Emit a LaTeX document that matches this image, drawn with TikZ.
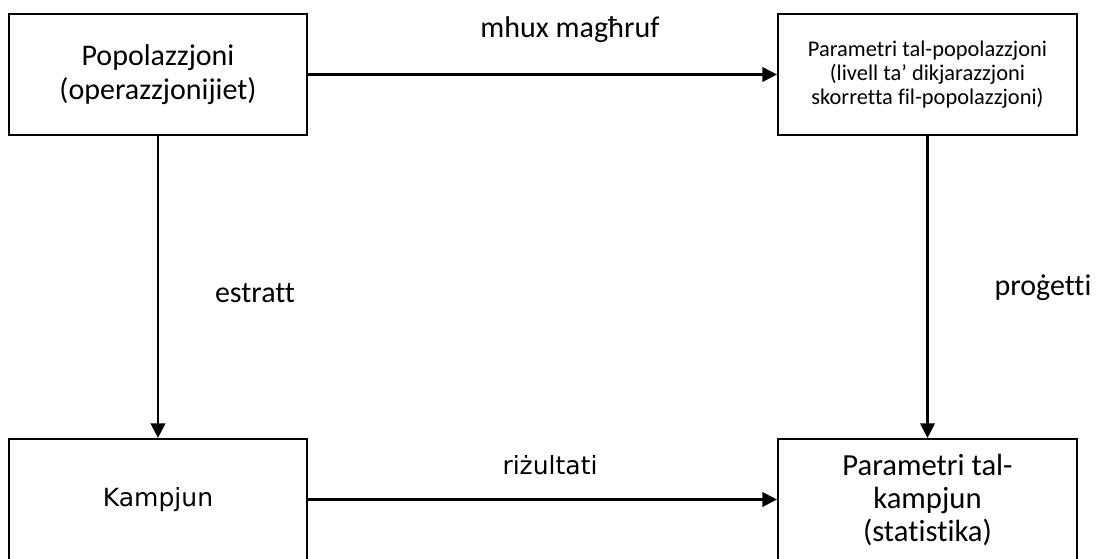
\documentclass[tikz,border=0pt]{standalone}
\usepackage{fontspec}
\setmainfont{Carlito}[Ligatures={NoCommon}]
\newfontfamily\dejavu{DejaVu Sans}
\usepackage{tikz}
\usetikzlibrary{arrows.meta, positioning}

\tikzset{
  blokk/.style={draw=black, line width=1.6pt, rectangle, minimum width=223.5pt, minimum height=90.75pt, align=center, inner sep=0pt},
  vleggija/.style={black, line width=1.6pt, -{Triangle[length=11pt, width=11pt]}},
  tikketta/.style={font=\fontsize{22.5}{25}\selectfont}
}

\begin{document}
\begin{tikzpicture}[x=0.75pt, y=-0.75pt]
  % Page frame
  \useasboundingbox (0,0) rectangle (1097,559);

  % Boxes (top row)
  \node[blokk, font=\fontsize{22.5}{25.5}\selectfont] (pop) at (158, 74.5) {\rule{0pt}{14pt}Popolazzjoni\\(operazzjonijiet)};
  \node[blokk, minimum width=224.25pt, font=\fontsize{16.8}{18}\selectfont] (parpop) at (927.5, 74.5) {Parametri tal-popolazzjoni\\(livell ta’ dikjarazzjoni\\skorretta fil-popolazzjoni)};

  % Boxes (bottom row)
  \node[blokk, font=\dejavu\fontsize{18.75}{20}\selectfont] (kamp) at (158, 499.5) {Kampjun};
  \node[blokk, minimum width=224.25pt, font=\fontsize{23}{24.75}\selectfont] (parkamp) at (927.5, 499.5) {\rule{0pt}{16pt}Parametri tal-\\kampjun\\(statistika)};

  % Connectors
  \draw[vleggija] (pop) -- (parpop);
  \draw[vleggija] (pop) -- (kamp);
  \draw[vleggija] (parpop) -- (parkamp);
  \draw[vleggija] (kamp) -- (parkamp);

  % Labels
  \node[tikketta] (lbl1) at (570, 30) {mhux magħruf};
  \node[tikketta] (lbl2) at (255, 293) {estratt};
  \node[tikketta] (lbl3) at (1043, 288) {proġetti};
  \node[font=\dejavu\fontsize{18.75}{20}\selectfont] (lbl4) at (550, 465) {riżultati};
\end{tikzpicture}
\end{document}
